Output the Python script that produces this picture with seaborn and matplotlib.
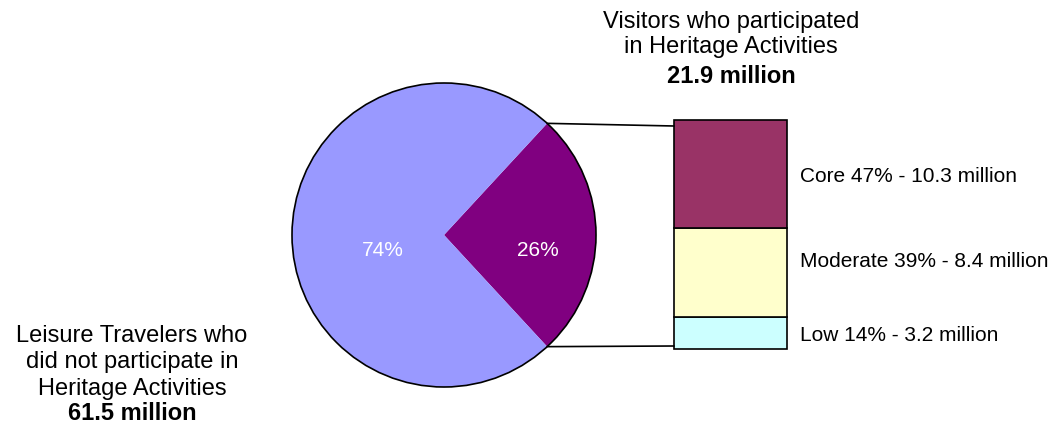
import matplotlib
matplotlib.use("Agg")
import matplotlib.pyplot as plt
import numpy as np
import seaborn as sns

# Heritage participation among leisure travelers (millions)
pie_labels = ["Visitors who participated\nin Heritage Activities",
              "Leisure Travelers who\ndid not participate in\nHeritage Activities"]
pie_values = [21.9, 61.5]

# Breakdown of heritage participants
tiers = ["Core", "Moderate", "Low"]
tier_pct = [47, 39, 14]
tier_millions = [10.3, 8.4, 3.2]

sns.set_theme(style="white")
plt.rcParams["font.family"] = ["Liberation Sans", "DejaVu Sans"]
plt.rcParams["text.color"] = "black"

FS = 15     # pie / column labels
CAP = 17    # group captions
W, H = 1061, 423
fig = plt.figure(figsize=(W / 100, H / 100), dpi=100)
ax = fig.add_axes([0, 0, 1, 1])

pie_colors = ["#800080", "#9999FF"]
bar_colors = {"Core": "#993366", "Moderate": "#FFFFCC", "Low": "#CCFFFF"}

cx, cy, r = 444, H - 235, 152
total = sum(pie_values)
share = pie_values[0] / total
ax.pie(pie_values, colors=pie_colors, startangle=-share * 180,
       center=(cx, cy), radius=r, counterclock=True,
       wedgeprops=dict(edgecolor="none"), frame=True)
ax.set_xlim(0, W)
ax.set_ylim(0, H)
ax.set_aspect("equal")
ax.set_axis_off()
ax.add_patch(plt.Circle((cx, cy), r, fill=False, edgecolor="black", lw=1.2))

# percentage labels inside the pie
ax.text(537.5, H - 256, f"{round(share * 100)}%", color="white",
        ha="center", va="baseline", fontsize=FS)
ax.text(383, H - 256, f"{round((1 - share) * 100)}%", color="white",
        ha="center", va="baseline", fontsize=FS)

# stacked breakdown column
bx, bw = 730.5, 113
bar_bottom = H - 349
scale = 229 / sum(tier_pct)
bottom = bar_bottom
for name in ["Low", "Moderate", "Core"]:
    i = tiers.index(name)
    h = tier_pct[i] * scale
    ax.bar(bx, h, width=bw, bottom=bottom, color=bar_colors[name],
           edgecolor="black", linewidth=1.2)
    bottom += h
bar_top = bottom

label_base = {"Core": 182, "Moderate": 267, "Low": 341}
for i, name in enumerate(tiers):
    ax.text(800, H - label_base[name],
            f"{name} {tier_pct[i]}% - {tier_millions[i]} million",
            ha="left", va="baseline", fontsize=FS)

# connector lines from wedge edges to the column
a1 = np.deg2rad(share * 180)
ax.plot([cx + r * np.cos(a1), bx - bw / 2], [cy + r * np.sin(a1), bar_top - 6],
        color="black", lw=1.2)
ax.plot([cx + r * np.cos(-a1), bx - bw / 2], [cy + r * np.sin(-a1), bar_bottom + 3],
        color="black", lw=1.2)


def caption(x, baselines, text, value):
    lines = text.split("\n")
    for line, yb in zip(lines, baselines):
        ax.text(x, H - yb, line, ha="center", va="baseline", fontsize=CAP)
    ax.text(x, H - baselines[-1], f"{value} million", ha="center",
            va="baseline", fontsize=CAP, fontweight="bold")


caption(731, [28, 53, 83], pie_labels[0], pie_values[0])
caption(132, [342, 368, 395, 420], pie_labels[1], pie_values[1])

fig.savefig("out.png", dpi=100, facecolor="white")
